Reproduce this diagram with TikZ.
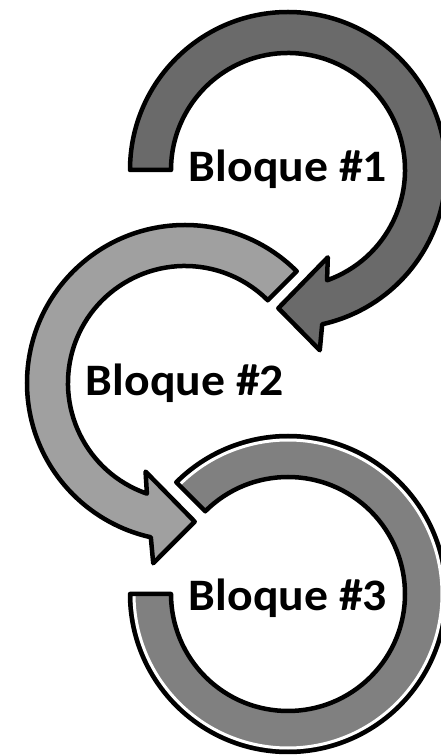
\documentclass[tikz,border=0pt]{standalone}
\usepackage{fontspec}
\setmainfont{Carlito}
\newfontfamily\lblfont[FakeStretch=1.06]{Carlito}
\begin{document}
\begin{tikzpicture}[
  band/.style={draw=black, line width=4.5pt, line join=round},
  label/.style={font=\lblfont\fontsize{45}{50}\selectfont\bfseries, inner sep=0pt, text=black}
]
\definecolor{grayA}{HTML}{6A6A6A}
\definecolor{grayB}{HTML}{A0A0A0}
\definecolor{grayC}{HTML}{808080}
\useasboundingbox (0,0) rectangle (440pt,756pt);
% ---- arrow 1 (top, clockwise)
\begin{scope}[shift={(288pt,586pt)}]
  \coordinate (c1) at (0,0);
  \draw[band, fill=grayA] (180:158pt) arc[start angle=180, end angle=-77.5, radius=158pt]
    -- (-80:183pt) -- (-94:138.5pt) -- (-65.5:96pt) -- (-70.5:117pt)
    arc[start angle=-70.5, end angle=180, radius=117pt] -- cycle;
\end{scope}
% ---- arrow 2 (middle, counter-clockwise)
\begin{scope}[shift={(185pt,373pt)}]
  \coordinate (c2) at (0,0);
  \draw[band, fill=grayB] (45:158pt) arc[start angle=45, end angle=257.5, radius=158pt]
    -- (260:183pt) -- (274:139pt) -- (246:97pt) -- (251:117pt)
    arc[start angle=251, end angle=45, radius=117pt] -- cycle;
\end{scope}
% ---- ring 3 (bottom)
\begin{scope}[shift={(288pt,162pt)}]
  \coordinate (c3) at (0,0);
  \fill[grayC] (180:158pt) arc[start angle=180, end angle=495, radius=158pt]
    -- (495:117pt) arc[start angle=495, end angle=180, radius=117pt] -- cycle;
  \draw[white, line width=3pt] (180:154pt) arc[start angle=180, end angle=495, radius=154pt];
  \draw[band] (180:158pt) arc[start angle=180, end angle=495, radius=158pt]
    -- (495:117pt) arc[start angle=495, end angle=180, radius=117pt] -- cycle;
\end{scope}
% ---- labels
\node[label] (t1) at ([yshift=1pt]c1) {Bloque \#1};
\node[label] (t2) at (c2) {Bloque \#2};
\node[label] (t3) at ([yshift=-4pt]c3) {Bloque \#3};
\end{tikzpicture}
\end{document}
